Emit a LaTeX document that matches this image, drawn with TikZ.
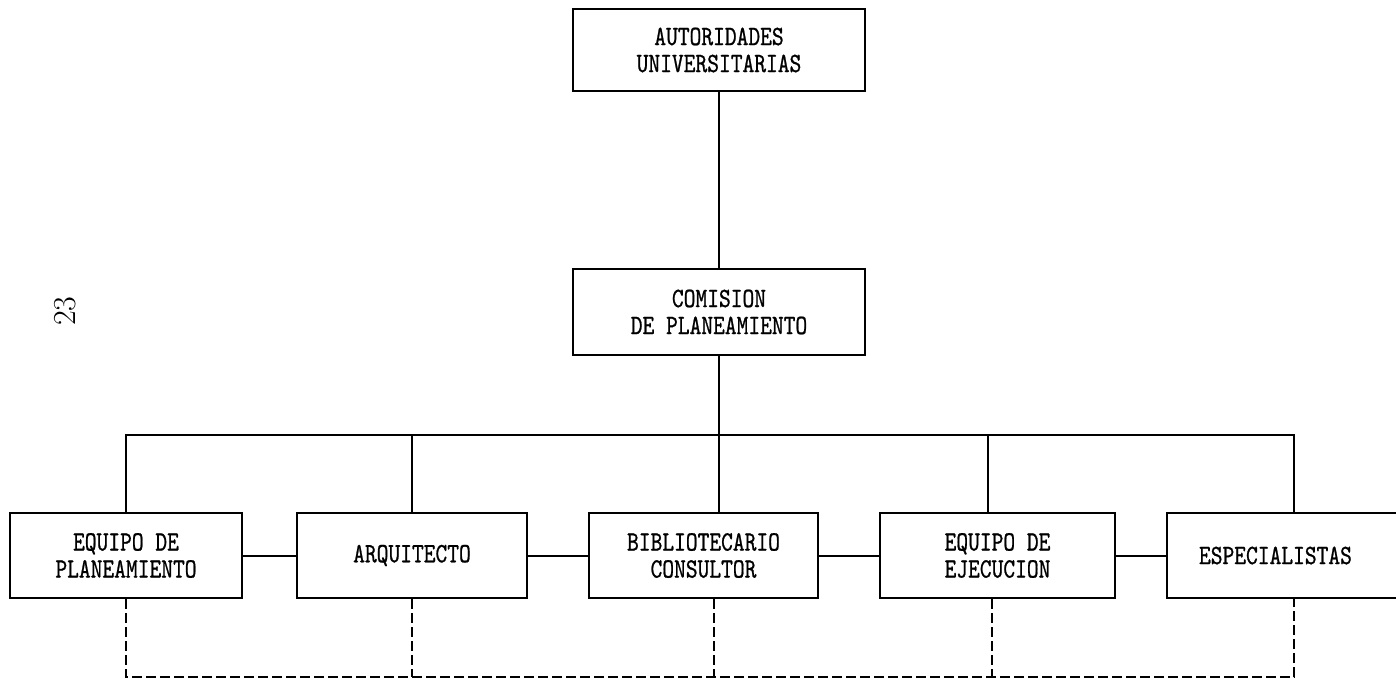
\documentclass[tikz,border=0pt]{standalone}
\usepackage{fontspec}
\newfontfamily\boxfamily{lmmono10-regular}[Extension=.otf,FakeStretch=0.8,FakeBold=0.8]
\newcommand\boxfont{\boxfamily\fontsize{28}{27}\selectfont}
\begin{document}
\begin{tikzpicture}[x=1pt,y=-1pt,line width=2pt,
  unit/.style={draw,align=center,minimum height=85pt,inner sep=0pt,font=\boxfont},
  dashlink/.style={dash pattern=on 10pt off 4pt}]
  \useasboundingbox (0,0) rectangle (1396,680);
  % top of the chart
  \node[unit,minimum width=292pt,minimum height=82pt] (auth) at (719,50) {AUTORIDADES\\UNIVERSITARIAS};
  \node[unit,minimum width=292pt,minimum height=86pt] (com) at (719,312) {COMISION\\DE PLANEAMIENTO};
  % the five teams
  \node[unit,minimum width=232pt] (plan) at (126,555.5) {EQUIPO DE\\PLANEAMIENTO};
  \node[unit,minimum width=230pt] (arq) at (412,555.5) {ARQUITECTO};
  \node[unit,minimum width=229pt] (bibl) at (703.5,555.5) {BIBLIOTECARIO\\CONSULTOR};
  \node[unit,minimum width=235pt] (ejec) at (997.5,555.5) {EQUIPO DE\\EJECUCION};
  \node[unit,anchor=west,align=left,text width=190pt,inner xsep=32pt] (espec) at (1166,555.5) {ESPECIALISTAS};
  \node[rotate=90,font=\fontsize{32}{32}\selectfont] (page) at (65,311) {23};
  \coordinate (bus) at (720,435);
  \coordinate (dash) at (720,677);
  % solid links
  \draw (auth) -- (com);
  \draw (com.south) -- (com.south |- bibl.north);
  \draw (plan.north) -- (plan.north |- bus) -- (espec.north |- bus) -- (espec.north);
  \draw (arq.north) -- (arq.north |- bus);
  \draw ([xshift=-10pt]ejec.north) -- ([xshift=-10pt]ejec.north |- bus);
  \draw (plan) -- (arq);
  \draw (arq) -- (bibl);
  \draw (bibl) -- (ejec);
  \draw (ejec) -- (espec);
  % dashed links
  \draw[dashlink] (plan.south) -- (plan.south |- dash) -- (espec.south |- dash) -- (espec.south);
  \draw[dashlink] (arq.south) -- (arq.south |- dash);
  \draw[dashlink] ([xshift=10pt]bibl.south) -- ([xshift=10pt]bibl.south |- dash);
  \draw[dashlink] ([xshift=-6pt]ejec.south) -- ([xshift=-6pt]ejec.south |- dash);
\end{tikzpicture}
\end{document}
